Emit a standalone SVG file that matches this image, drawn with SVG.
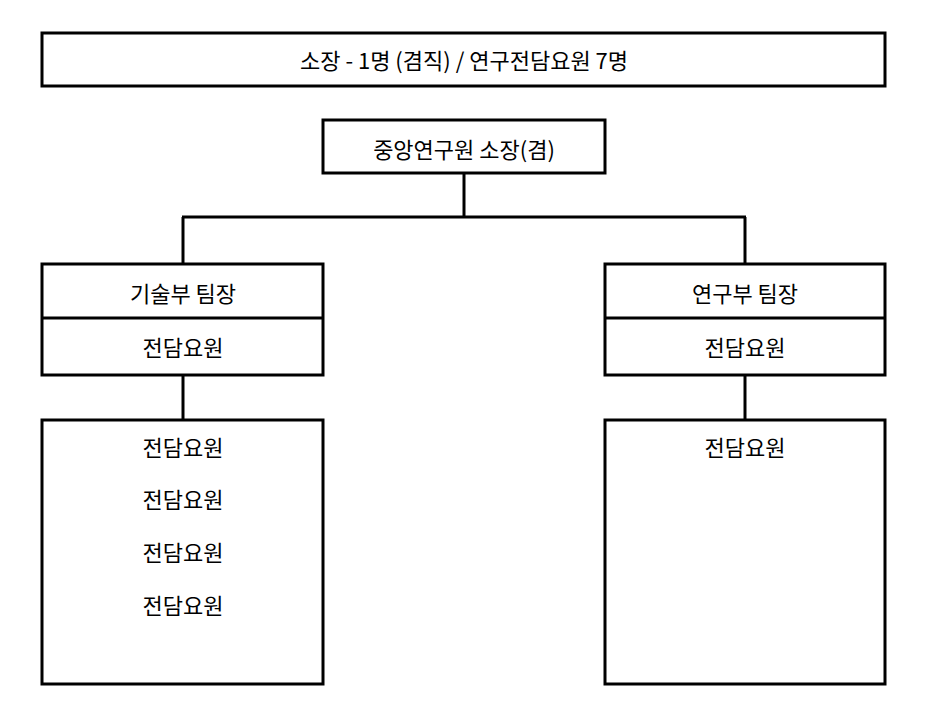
<svg xmlns="http://www.w3.org/2000/svg" width="937" height="708" viewBox="0 0 937 708">
<style>
.b{fill:#fff;stroke:#000;stroke-width:3}
line{stroke:#000;stroke-width:3}
text{font-family:"Noto Sans CJK KR","Noto Sans",sans-serif;font-size:22px;text-anchor:middle;dominant-baseline:central;fill:#000}
</style>
<rect width="937" height="708" fill="#fff"/>
<g id="connectors">
<line x1="464" y1="173" x2="464" y2="217"/>
<line x1="182" y1="217" x2="746" y2="217"/>
<line x1="183" y1="217" x2="183" y2="264"/>
<line x1="745" y1="217" x2="745" y2="264"/>
<line x1="183" y1="375" x2="183" y2="420"/>
<line x1="745" y1="375" x2="745" y2="420"/>
</g>
<g id="title"><rect class="b" x="42" y="33" width="843" height="53"/><text x="464" y="59">소장 - 1명 (겸직) / 연구전담요원 7명</text></g>
<g id="center"><rect class="b" x="323" y="120" width="282" height="53"/><text x="464" y="148">중앙연구원 소장(겸)</text></g>
<g id="left-head"><rect class="b" x="42" y="264" width="281" height="111"/><line x1="42" y1="318" x2="323" y2="318"/><text x="183" y="292">기술부 팀장</text><text x="183" y="346">전담요원</text></g>
<g id="right-head"><rect class="b" x="605" y="264" width="280" height="111"/><line x1="605" y1="318" x2="885" y2="318"/><text x="745" y="292">연구부 팀장</text><text x="745" y="346">전담요원</text></g>
<g id="left-staff"><rect class="b" x="42" y="420" width="281" height="264"/><text x="183" y="446">전담요원</text><text x="183" y="498">전담요원</text><text x="183" y="551">전담요원</text><text x="183" y="604">전담요원</text></g>
<g id="right-staff"><rect class="b" x="605" y="420" width="280" height="264"/><text x="745" y="446">전담요원</text></g>
</svg>
